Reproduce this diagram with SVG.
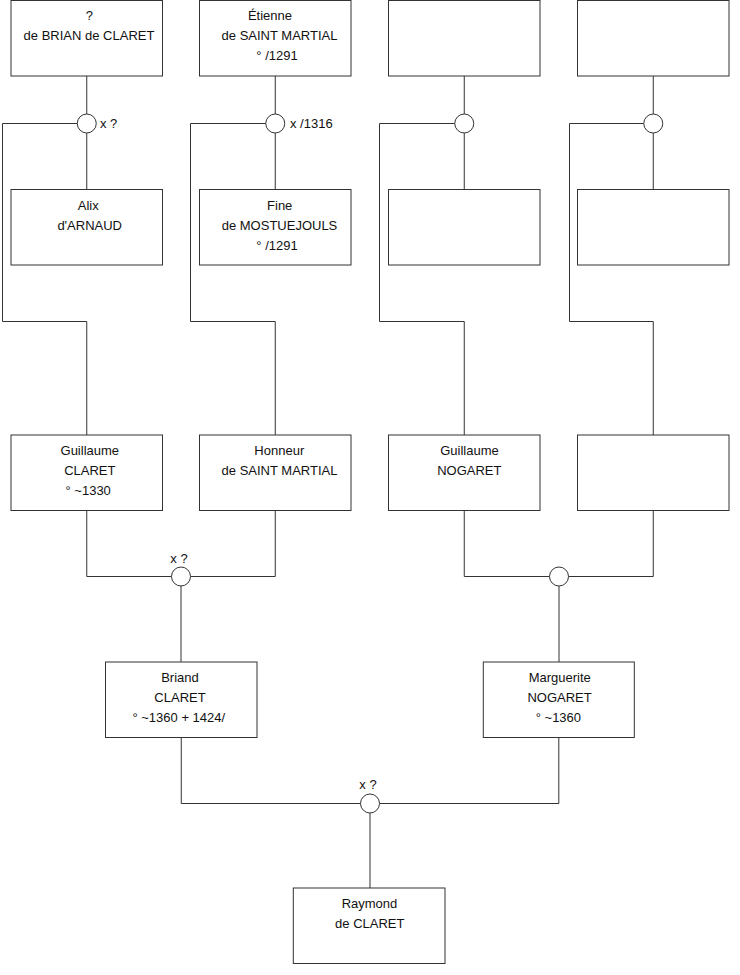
<svg xmlns="http://www.w3.org/2000/svg" width="740" height="975" viewBox="0 0 740 975">
<style>
.box{fill:#fff;stroke:#333;stroke-width:1}
.ln{fill:none;stroke:#333;stroke-width:1}
.m{fill:#fff;stroke:#333;stroke-width:1}
text{font-family:"Liberation Sans",Arial,sans-serif;font-size:13px;fill:#111;text-anchor:middle}
.lab{text-anchor:start}
</style>
<rect width="740" height="975" fill="#fff"/>
<g id="connectors">
<path class="ln" d="M86.75 76V114M86.75 133V189.5M77.25 123.5H2.5V321.5H86.75V435"/>
<path class="ln" d="M275.25 76V114M275.25 133V189.5M265.75 123.5H190.5V321.5H275.25V435"/>
<path class="ln" d="M464.25 76V114M464.25 133V189.5M454.75 123.5H379.5V321.5H464.25V435"/>
<path class="ln" d="M653.25 76V114M653.25 133V189.5M643.75 123.5H569.5V321.5H653.25V435"/>
<path class="ln" d="M86.75 510.5V576.5H171.5M190.5 576.5H275.25V510.5M181 586V662"/>
<path class="ln" d="M464.25 510.5V576.5H549.5M568.5 576.5H653.25V510.5M559 586V662"/>
<path class="ln" d="M181.25 737.5V803.5H360.5M379.5 803.5H558.8V737.5M370 813V888"/>
<circle class="m" cx="86.75" cy="123.5" r="9.5"/>
<circle class="m" cx="275.25" cy="123.5" r="9.5"/>
<circle class="m" cx="464.25" cy="123.5" r="9.5"/>
<circle class="m" cx="653.25" cy="123.5" r="9.5"/>
<circle class="m" cx="181" cy="576.5" r="9.5"/>
<circle class="m" cx="559" cy="576.5" r="9.5"/>
<circle class="m" cx="370" cy="803.5" r="9.5"/>
<text class="lab" x="100" y="128">x ?</text>
<text class="lab" x="290" y="128">x /1316</text>
<text x="179" y="562.5">x ?</text>
<text x="368" y="789">x ?</text>
</g>
<g id="n1"><rect class="box" x="11" y="0.5" width="151.5" height="75.5"/><text x="89.3" y="20">?</text><text x="89" y="40">de BRIAN de CLARET</text></g>
<g id="n2"><rect class="box" x="199.5" y="0.5" width="151.5" height="75.5"/><text x="270" y="20">Étienne</text><text x="279.5" y="40">de SAINT MARTIAL</text><text x="277" y="60">° /1291</text></g>
<g id="n3"><rect class="box" x="388.5" y="0.5" width="151.5" height="75.5"/></g>
<g id="n4"><rect class="box" x="577.5" y="0.5" width="151.5" height="75.5"/></g>
<g id="n5"><rect class="box" x="11" y="189.5" width="151.5" height="75.5"/><text x="88.2" y="209.5">Alix</text><text x="89.7" y="229.5">d'ARNAUD</text></g>
<g id="n6"><rect class="box" x="199.5" y="189.5" width="151.5" height="75.5"/><text x="279.7" y="209.5">Fine</text><text x="279.5" y="229.5">de MOSTUEJOULS</text><text x="277" y="249.5">° /1291</text></g>
<g id="n7"><rect class="box" x="388.5" y="189.5" width="151.5" height="75.5"/></g>
<g id="n8"><rect class="box" x="577.5" y="189.5" width="151.5" height="75.5"/></g>
<g id="n9"><rect class="box" x="11" y="435" width="151.5" height="75.5"/><text x="89.8" y="455">Guillaume</text><text x="89.8" y="475">CLARET</text><text x="88.2" y="495">° ~1330</text></g>
<g id="n10"><rect class="box" x="199.5" y="435" width="151.5" height="75.5"/><text x="279.3" y="455">Honneur</text><text x="279.5" y="475">de SAINT MARTIAL</text></g>
<g id="n11"><rect class="box" x="388.5" y="435" width="151.5" height="75.5"/><text x="469.5" y="455">Guillaume</text><text x="469.3" y="475">NOGARET</text></g>
<g id="n12"><rect class="box" x="577.5" y="435" width="151.5" height="75.5"/></g>
<g id="n13"><rect class="box" x="105.5" y="662" width="151.5" height="75.5"/><text x="180" y="682">Briand</text><text x="180" y="702">CLARET</text><text x="178.8" y="722">° ~1360 + 1424/</text></g>
<g id="n14"><rect class="box" x="483.3" y="662" width="151" height="75.5"/><text x="559.7" y="682">Marguerite</text><text x="559.6" y="702">NOGARET</text><text x="558.4" y="722">° ~1360</text></g>
<g id="n15"><rect class="box" x="293.3" y="888" width="151.7" height="75.5"/><text x="369.5" y="908">Raymond</text><text x="369.8" y="928">de CLARET</text></g>
</svg>
